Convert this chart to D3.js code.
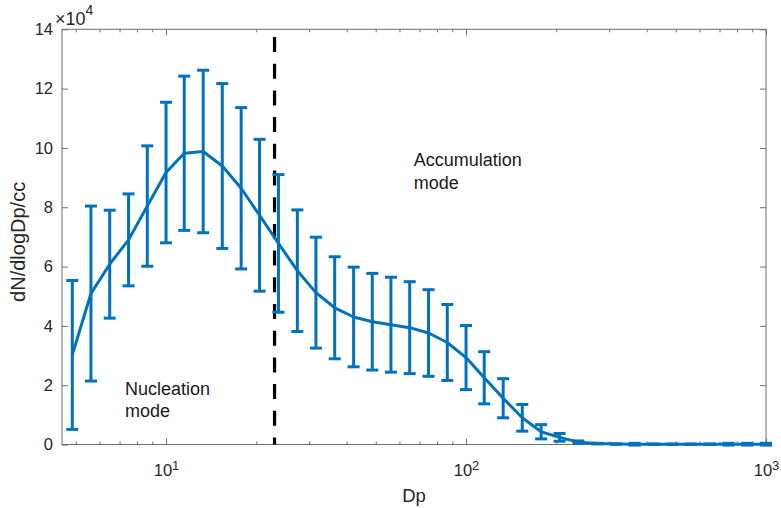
<!DOCTYPE html>
<html><head><meta charset="utf-8">
<script src="https://cdn.jsdelivr.net/npm/d3@7"></script>
<style>
body{margin:0;background:#fff}
svg{display:block}
text{font-family:"Liberation Sans",Arial,Helvetica,sans-serif}
</style>
</head><body>
<svg id="chart" width="781" height="508"></svg>
<script>
// Particle diameter (nm)
const dp = [4.87, 5.62, 6.49, 7.50, 8.66, 10.0, 11.5, 13.3, 15.4, 17.8, 20.5, 23.7, 27.4, 31.6, 36.5, 42.2, 48.7, 56.2, 64.9, 75.0, 86.6, 100, 115, 133, 154, 178, 205, 237, 274, 316, 365, 422, 487, 562, 649, 750, 866, 1000];
// Mean dN/dlogDp (x10^4 /cc)
const meanN = [3.02, 5.09, 6.08, 6.90, 8.04, 9.17, 9.82, 9.88, 9.39, 8.64, 7.73, 6.78, 5.86, 5.12, 4.61, 4.30, 4.14, 4.04, 3.94, 3.76, 3.44, 2.93, 2.25, 1.56, 0.90, 0.43, 0.24, 0.08, 0.03, 0.015, 0.01, 0.01, 0.01, 0.01, 0.01, 0.01, 0.01, 0.01];
// Error (half-length, x10^4 /cc)
const errN = [2.51, 2.95, 1.82, 1.55, 2.03, 2.37, 2.60, 2.74, 2.78, 2.72, 2.56, 2.32, 2.05, 1.87, 1.72, 1.68, 1.63, 1.60, 1.55, 1.46, 1.28, 1.08, 0.88, 0.66, 0.45, 0.24, 0.13, 0.04, 0.01, 0.005, 0.03, 0.005, 0.005, 0.005, 0.005, 0.03, 0.03, 0.03];
const yTicks = [0, 2, 4, 6, 8, 10, 12, 14];
const xMajorTicks = [10, 100, 1000];
const xMajorExp = ["1", "2", "3"];
const xMinorTicks = [5, 6, 7, 8, 9, 20, 30, 40, 50, 60, 70, 80, 90, 200, 300, 400, 500, 600, 700, 800, 900];
const modeBoundary = 23;
const annotations = [
  {lines: ["Nucleation", "mode"], dp: 7.3, v: 1.67},
  {lines: ["Accumulation", "mode"], dp: 67, v: 9.39}
];

const svg = d3.select("#chart");
const L = 62, R = 766, T = 29.3, B = 444.5;
const x = d3.scaleLog().domain([4.5, 1000]).range([L, R]);
const y = d3.scaleLinear().domain([0, 14]).range([B, T]);
const blue = "#0072BD", axisCol = "#6f6f6f", textCol = "#262626";
const tickFont = 16.5;

// Frame
svg.append("rect").attr("x", L).attr("y", T).attr("width", R - L).attr("height", B - T)
  .attr("fill", "none").attr("stroke", axisCol).attr("stroke-width", 1);

function styleAxis(g) {
  g.select(".domain").remove();
  g.selectAll(".tick line").attr("stroke", axisCol);
  g.selectAll("text").attr("fill", textCol).attr("font-size", tickFont)
    .attr("font-family", '"Liberation Sans",Arial,Helvetica,sans-serif');
}

// Bottom axis major
const gxb = svg.append("g").attr("transform", `translate(0,${B})`)
  .call(d3.axisBottom(x).tickValues(xMajorTicks).tickSizeInner(-6).tickSizeOuter(0).tickPadding(20)
    .tickFormat(() => "10"));
styleAxis(gxb);
gxb.selectAll(".tick text").each(function(d, i) {
  const t = d3.select(this);
  t.append("tspan").attr("font-size", 13).attr("dy", "-0.45em").text(xMajorExp[i]);
});
// Bottom minor
styleAxis(svg.append("g").attr("transform", `translate(0,${B})`)
  .call(d3.axisBottom(x).tickValues(xMinorTicks).tickSizeInner(-3).tickSizeOuter(0).tickFormat("")));
// Top axis
styleAxis(svg.append("g").attr("transform", `translate(0,${T})`)
  .call(d3.axisTop(x).tickValues(xMajorTicks).tickSizeInner(-6).tickSizeOuter(0).tickFormat("")));
styleAxis(svg.append("g").attr("transform", `translate(0,${T})`)
  .call(d3.axisTop(x).tickValues(xMinorTicks).tickSizeInner(-3).tickSizeOuter(0).tickFormat("")));
// Left axis
styleAxis(svg.append("g").attr("transform", `translate(${L},0)`)
  .call(d3.axisLeft(y).tickValues(yTicks).tickSizeInner(-6).tickSizeOuter(0).tickPadding(9)
    .tickFormat(d3.format("d"))));
// Right axis
styleAxis(svg.append("g").attr("transform", `translate(${R},0)`)
  .call(d3.axisRight(y).tickValues(yTicks).tickSizeInner(-6).tickSizeOuter(0).tickFormat("")));

// Exponent label
const ex = svg.append("text").attr("x", 55).attr("y", 25).attr("fill", textCol).attr("font-size", 18);
ex.append("tspan").text("\u00d710");
ex.append("tspan").attr("font-size", 14).attr("dy", -10).text("4");

// Axis labels
svg.append("text").attr("x", (L + R) / 2).attr("y", 502).attr("text-anchor", "middle")
  .attr("fill", textCol).attr("font-size", 18.5).text("Dp");
svg.append("text").attr("transform", `translate(25,${(T + B) / 2 + 5}) rotate(-90)`)
  .attr("text-anchor", "middle").attr("fill", textCol).attr("font-size", 20).text("dN/dlogDp/cc");

// Dashed boundary
svg.append("line").attr("x1", x(modeBoundary)).attr("x2", x(modeBoundary))
  .attr("y1", y(14)).attr("y2", y(0))
  .attr("stroke", "#000").attr("stroke-width", 3.2)
  .attr("stroke-dasharray", "15,11.7").attr("stroke-dashoffset", 19);

// Mean line
const pts = dp.map((d, i) => ({d, m: meanN[i], e: errN[i]}));
svg.append("path").datum(pts)
  .attr("d", d3.line().x(p => x(p.d)).y(p => y(p.m)))
  .attr("fill", "none").attr("stroke", blue).attr("stroke-width", 3).attr("stroke-linejoin", "round");

// Error bars
const eb = svg.append("g").attr("stroke", blue).attr("stroke-width", 3).attr("fill", "none");
const cap = 6;
pts.forEach(p => {
  const cx = x(p.d), y1 = y(p.m + p.e), y2 = y(p.m - p.e);
  eb.append("line").attr("x1", cx).attr("x2", cx).attr("y1", y1).attr("y2", y2);
  eb.append("line").attr("x1", cx - cap).attr("x2", cx + cap).attr("y1", y1).attr("y2", y1);
  eb.append("line").attr("x1", cx - cap).attr("x2", cx + cap).attr("y1", y2).attr("y2", y2);
});

// Annotations
annotations.forEach(a => {
  const t = svg.append("text").attr("x", x(a.dp)).attr("y", y(a.v)).attr("fill", "#1a1a1a").attr("font-size", 18);
  a.lines.forEach((ln, i) => {
    t.append("tspan").attr("x", x(a.dp)).attr("dy", i === 0 ? 0 : 22.5).text(ln);
  });
});
</script>
</body></html>
